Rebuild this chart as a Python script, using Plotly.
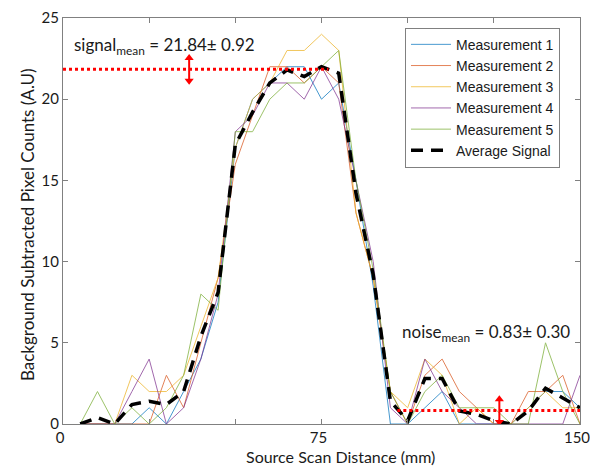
import numpy as np
import plotly.graph_objects as go

# Scan positions (mm)
distance = list(range(5, 151, 5))

# Background-subtracted pixel counts for each measurement
meas_1 = [0, 0, 0, 0, 1, 0, 2, 4, 7.5, 17, 20, 21, 22, 22, 20, 21, 15, 8.5, 0, 0, 1, 2, 0, 0, 0, 0, 1, 2, 2, 1]
meas_2 = [0, 0, 0, 0, 0, 3, 1, 5, 9, 16, 19, 22, 22, 21, 22, 21, 13, 9, 2, 0, 3, 4, 2, 1, 0, 0, 2, 2, 3, 0]
meas_3 = [0, 0, 0, 3, 2, 2, 3, 6, 9, 17, 20, 21, 23, 23, 24, 23, 13, 9, 2, 1, 4, 3, 0, 1, 0, 0, 1, 2, 1, 1]
meas_4 = [0, 0, 0, 2, 4, 0, 1, 4, 8, 18, 19, 21, 21, 20, 22, 20, 15, 10, 1, 0, 4, 2, 1, 0, 0, 0, 0, 0, 0, 3]
meas_5 = [0, 2, 0, 1, 0, 1, 3, 8, 7, 18, 18, 20, 21, 21, 22, 23, 15, 9.5, 2, 0, 2, 3, 1, 1, 1, 0, 0, 5, 2, 0]

series_names = ["Measurement 1", "Measurement 2", "Measurement 3", "Measurement 4", "Measurement 5"]
series_colors = ["#0072BD", "#D95319", "#EDB120", "#7E2F8E", "#77AC30"]
measurements = [meas_1, meas_2, meas_3, meas_4, meas_5]
average_signal = np.mean(np.array(measurements), axis=0)

# Summary statistics
signal_mean, signal_std = 21.84, 0.92
noise_mean, noise_std = 0.83, 0.30
signal_span = [0, 77]
noise_span = [97, 150]
signal_arrow_x = 36.6
noise_arrow_x = 126.6
arrow_half = 0.9

x_tickvals = [0, 75, 150]
x_minor_step = 25
y_tickvals = [0, 5, 10, 15, 20, 25]

TEXT_FONT = "Lato"
TEXT_COLOR = "#1a1a1a"
AXIS_GRAY = "#808080"
RED = "#FF0000"

fig = go.Figure()

for name, color, values in zip(series_names, series_colors, measurements):
    fig.add_trace(go.Scatter(
        x=distance, y=values, mode="lines", name=name,
        line=dict(color=color, width=1), opacity=0.72,
    ))

fig.add_trace(go.Scatter(
    x=distance, y=average_signal, mode="lines", name="Average Signal",
    line=dict(color="black", width=3.5, dash="12px,8px"),
))

# Mean level markers with double-headed spread arrows
for span, level, ax_x in [(signal_span, signal_mean, signal_arrow_x),
                          (noise_span, noise_mean, noise_arrow_x)]:
    fig.add_trace(go.Scatter(
        x=span, y=[level, level], mode="lines", showlegend=False,
        line=dict(color=RED, width=3, dash="dot"), hoverinfo="skip",
    ))
    fig.add_trace(go.Scatter(
        x=[ax_x, ax_x], y=[level - arrow_half + 0.25, level + arrow_half - 0.25],
        mode="lines", showlegend=False, line=dict(color=RED, width=2), hoverinfo="skip",
    ))
    fig.add_trace(go.Scatter(
        x=[ax_x, ax_x], y=[level - arrow_half + 0.2, level + arrow_half - 0.2],
        mode="markers", showlegend=False, hoverinfo="skip",
        marker=dict(symbol=["triangle-down", "triangle-up"], size=8, color=RED,
                    line=dict(width=0)),
    ))

annotations = [
    dict(
        x=2.6, y=23.3, xref="x", yref="y", xanchor="left", yanchor="middle",
        text=f"signal<sub>mean</sub> = {signal_mean:.2f}\u00b1 {signal_std:.2f}",
        showarrow=False, font=dict(family=TEXT_FONT, size=17, color=TEXT_COLOR),
    ),
    dict(
        x=97.8, y=5.6, xref="x", yref="y", xanchor="left", yanchor="middle",
        text=f"noise<sub>mean</sub> = {noise_mean:.2f}\u00b1 {noise_std:.2f}",
        showarrow=False, font=dict(family=TEXT_FONT, size=17, color=TEXT_COLOR),
    ),
    dict(
        x=0.5377, y=-0.079, xref="paper", yref="paper", xanchor="center", yanchor="middle",
        text="Source Scan Distance (mm)", showarrow=False,
        font=dict(family=TEXT_FONT, size=16, color=TEXT_COLOR),
    ),
    dict(
        x=-0.0696, y=0.49, xref="paper", yref="paper", xanchor="center", yanchor="middle",
        text="Background Subtracted Pixel Counts (A.U)", showarrow=False, textangle=-90,
        font=dict(family=TEXT_FONT, size=17, color=TEXT_COLOR),
    ),
]

fig.update_layout(
    width=590, height=467,
    margin=dict(l=63, r=10, t=18, b=43, autoexpand=False),
    paper_bgcolor="white", plot_bgcolor="white",
    annotations=annotations,
    legend=dict(
        x=0.6615, y=0.976, xanchor="left", yanchor="top",
        bgcolor="white", bordercolor=AXIS_GRAY, borderwidth=1,
        font=dict(family="Liberation Sans, Arial", size=14, color=TEXT_COLOR),
        tracegroupgap=0, itemwidth=40,
    ),
    showlegend=True,
)

fig.update_xaxes(
    range=[0, 150], tickvals=x_tickvals, automargin=False,
    showgrid=False, zeroline=False, showline=True, linecolor=AXIS_GRAY, linewidth=1,
    mirror="allticks", ticks="inside", ticklen=5, tickcolor=AXIS_GRAY,
    minor=dict(dtick=x_minor_step, tick0=0, ticks="inside", ticklen=5,
               tickcolor=AXIS_GRAY, showgrid=False),
    ticklabeloverflow="allow", ticklabelshift=-3,
    tickfont=dict(family=TEXT_FONT, size=15, color=TEXT_COLOR),
)
fig.update_yaxes(
    range=[0, 25], tickvals=y_tickvals, automargin=False,
    showgrid=False, zeroline=False, showline=True, linecolor=AXIS_GRAY, linewidth=1,
    mirror="allticks", ticks="inside", ticklen=5, tickcolor=AXIS_GRAY,
    tickfont=dict(family=TEXT_FONT, size=15, color=TEXT_COLOR),
)

fig.write_html("out.html")
